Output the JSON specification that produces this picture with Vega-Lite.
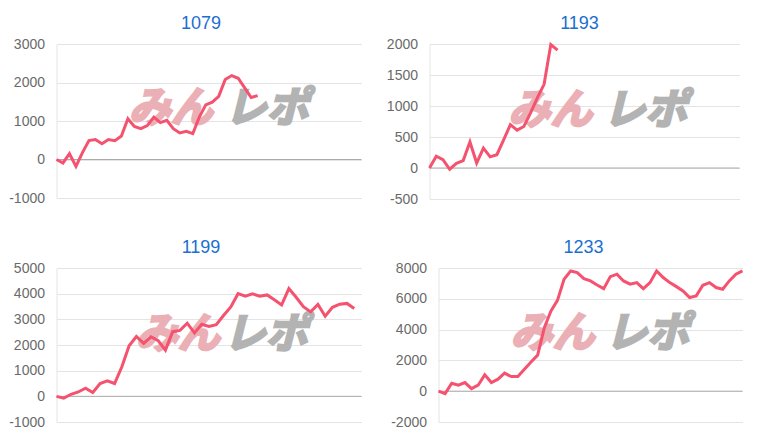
{
  "$schema": "https://vega.github.io/schema/vega-lite/v6.json",
  "background": "white",
  "padding": {"left": 8.5, "top": 15, "right": 5, "bottom": 5},
  "config": {
    "view": {"stroke": null},
    "font": "Liberation Sans",
    "axisY": {"grid": true, "gridColor": "#e4e4e4", "domainColor": "#e4e4e4", "ticks": false, "labelPadding": 12, "labelColor": "#6a6a6a", "labelFontSize": 14, "labelFont": "Liberation Sans", "labelOverlap": false, "labelFlush": false, "labelBound": false, "labelExpr": "'' + datum.value", "title": null},
    "title": {"fontSize": 18, "color": "#1a6fd1", "fontWeight": "normal", "anchor": "middle", "frame": "group", "offset": 4, "font": "Liberation Sans"}
  },
  "datasets": {
    "p1": [{"i":0,"v":0},{"i":1,"v":-90},{"i":2,"v":150},{"i":3,"v":-180},{"i":4,"v":180},{"i":5,"v":490},{"i":6,"v":520},{"i":7,"v":410},{"i":8,"v":520},{"i":9,"v":490},{"i":10,"v":610},{"i":11,"v":1060},{"i":12,"v":860},{"i":13,"v":800},{"i":14,"v":880},{"i":15,"v":1100},{"i":16,"v":960},{"i":17,"v":1020},{"i":18,"v":800},{"i":19,"v":690},{"i":20,"v":730},{"i":21,"v":670},{"i":22,"v":1100},{"i":23,"v":1420},{"i":24,"v":1490},{"i":25,"v":1640},{"i":26,"v":2080},{"i":27,"v":2180},{"i":28,"v":2110},{"i":29,"v":1860},{"i":30,"v":1610},{"i":31,"v":1660}],
    "p2": [{"i":0,"v":0},{"i":1,"v":190},{"i":2,"v":135},{"i":3,"v":-20},{"i":4,"v":75},{"i":5,"v":120},{"i":6,"v":420},{"i":7,"v":80},{"i":8,"v":320},{"i":9,"v":180},{"i":10,"v":215},{"i":11,"v":455},{"i":12,"v":700},{"i":13,"v":610},{"i":14,"v":670},{"i":15,"v":890},{"i":16,"v":1130},{"i":17,"v":1350},{"i":18,"v":1990},{"i":19,"v":1900}],
    "p3": [{"i":0,"v":0},{"i":1,"v":-70},{"i":2,"v":80},{"i":3,"v":170},{"i":4,"v":320},{"i":5,"v":150},{"i":6,"v":500},{"i":7,"v":600},{"i":8,"v":500},{"i":9,"v":1150},{"i":10,"v":1970},{"i":11,"v":2330},{"i":12,"v":2060},{"i":13,"v":2320},{"i":14,"v":2170},{"i":15,"v":1800},{"i":16,"v":2520},{"i":17,"v":2570},{"i":18,"v":2850},{"i":19,"v":2470},{"i":20,"v":2810},{"i":21,"v":2720},{"i":22,"v":2790},{"i":23,"v":3150},{"i":24,"v":3480},{"i":25,"v":4000},{"i":26,"v":3900},{"i":27,"v":3990},{"i":28,"v":3900},{"i":29,"v":3950},{"i":30,"v":3760},{"i":31,"v":3560},{"i":32,"v":4200},{"i":33,"v":3860},{"i":34,"v":3490},{"i":35,"v":3290},{"i":36,"v":3580},{"i":37,"v":3120},{"i":38,"v":3470},{"i":39,"v":3590},{"i":40,"v":3620},{"i":41,"v":3420}],
    "p4": [{"i":0,"v":0},{"i":1,"v":-160},{"i":2,"v":520},{"i":3,"v":390},{"i":4,"v":560},{"i":5,"v":170},{"i":6,"v":390},{"i":7,"v":1060},{"i":8,"v":560},{"i":9,"v":780},{"i":10,"v":1170},{"i":11,"v":950},{"i":12,"v":950},{"i":13,"v":1430},{"i":14,"v":1900},{"i":15,"v":2340},{"i":16,"v":4100},{"i":17,"v":5200},{"i":18,"v":5900},{"i":19,"v":7270},{"i":20,"v":7810},{"i":21,"v":7700},{"i":22,"v":7310},{"i":23,"v":7160},{"i":24,"v":6900},{"i":25,"v":6660},{"i":26,"v":7440},{"i":27,"v":7600},{"i":28,"v":7160},{"i":29,"v":6950},{"i":30,"v":7050},{"i":31,"v":6660},{"i":32,"v":7050},{"i":33,"v":7810},{"i":34,"v":7380},{"i":35,"v":7050},{"i":36,"v":6790},{"i":37,"v":6510},{"i":38,"v":6080},{"i":39,"v":6190},{"i":40,"v":6880},{"i":41,"v":7050},{"i":42,"v":6730},{"i":43,"v":6620},{"i":44,"v":7160},{"i":45,"v":7600},{"i":46,"v":7810}]
  },
  "spacing": 33,
  "vconcat": [
    {
      "spacing": 23,
      "hconcat": [
        {
          "width": 305, "height": 154,
          "title": {"text": "1079", "dx": -8},
          "layer": [
            {"data": {"values": [{}]}, "mark": {"type": "text", "text": "みん", "font": "Noto Sans CJK JP", "fontSize": 42, "fontWeight": "bold", "fontStyle": "italic", "color": "#eab0b5", "stroke": "#eab0b5", "strokeWidth": 2.5},
             "encoding": {"x": {"datum": 17.6, "type": "quantitative", "scale": {"domain": [0, 47]}, "axis": null}, "y": {"datum": 1300, "type": "quantitative", "scale": {"domain": [-1000, 3000]}, "axis": {"values": [-1000, 0, 1000, 2000, 3000]}}}},
            {"data": {"values": [{}]}, "mark": {"type": "text", "text": "レポ", "font": "Noto Sans CJK JP", "fontSize": 42, "fontWeight": "bold", "fontStyle": "italic", "color": "#b3b3b3", "stroke": "#b3b3b3", "strokeWidth": 2.5},
             "encoding": {"x": {"datum": 32.4, "type": "quantitative", "scale": {"domain": [0, 47]}, "axis": null}, "y": {"datum": 1300, "type": "quantitative", "scale": {"domain": [-1000, 3000]}, "axis": {"values": [-1000, 0, 1000, 2000, 3000]}}}},
            {"data": {"values": [{}]}, "mark": {"type": "rule", "color": "#aaaaaa", "strokeWidth": 1},
             "encoding": {"y": {"datum": 0, "type": "quantitative", "scale": {"domain": [-1000, 3000]}, "axis": {"values": [-1000, 0, 1000, 2000, 3000]}}}},
            {"data": {"name": "p1"}, "mark": {"type": "line", "color": "#f4526f", "strokeWidth": 3},
             "encoding": {
               "x": {"field": "i", "type": "quantitative", "scale": {"domain": [0, 47]}, "axis": null},
               "y": {"field": "v", "type": "quantitative", "scale": {"domain": [-1000, 3000]}, "axis": {"values": [-1000, 0, 1000, 2000, 3000]}}
             }}
          ]
        },
        {
          "width": 310, "height": 155,
          "title": {"text": "1193", "dx": -5},
          "layer": [
            {"data": {"values": [{}]}, "mark": {"type": "text", "text": "みん", "font": "Noto Sans CJK JP", "fontSize": 42, "fontWeight": "bold", "fontStyle": "italic", "color": "#eab0b5", "stroke": "#eab0b5", "strokeWidth": 2.5},
             "encoding": {"x": {"datum": 17.9, "type": "quantitative", "scale": {"domain": [0, 46]}, "axis": null}, "y": {"datum": 924, "type": "quantitative", "scale": {"domain": [-500, 2000]}, "axis": {"values": [-500, 0, 500, 1000, 1500, 2000]}}}},
            {"data": {"values": [{}]}, "mark": {"type": "text", "text": "レポ", "font": "Noto Sans CJK JP", "fontSize": 42, "fontWeight": "bold", "fontStyle": "italic", "color": "#b3b3b3", "stroke": "#b3b3b3", "strokeWidth": 2.5},
             "encoding": {"x": {"datum": 32.0, "type": "quantitative", "scale": {"domain": [0, 46]}, "axis": null}, "y": {"datum": 924, "type": "quantitative", "scale": {"domain": [-500, 2000]}, "axis": {"values": [-500, 0, 500, 1000, 1500, 2000]}}}},
            {"data": {"values": [{}]}, "mark": {"type": "rule", "color": "#aaaaaa", "strokeWidth": 1},
             "encoding": {"y": {"datum": 0, "type": "quantitative", "scale": {"domain": [-500, 2000]}, "axis": {"values": [-500, 0, 500, 1000, 1500, 2000]}}}},
            {"data": {"name": "p2"}, "mark": {"type": "line", "color": "#f4526f", "strokeWidth": 3},
             "encoding": {
               "x": {"field": "i", "type": "quantitative", "scale": {"domain": [0, 46]}, "axis": null},
               "y": {"field": "v", "type": "quantitative", "scale": {"domain": [-500, 2000]}, "axis": {"values": [-500, 0, 500, 1000, 1500, 2000]}}
             }}
          ]
        }
      ]
    },
    {
      "spacing": 28,
      "hconcat": [
        {
          "width": 305, "height": 154,
          "title": {"text": "1199", "dx": -8},
          "layer": [
            {"data": {"values": [{}]}, "mark": {"type": "text", "text": "みん", "font": "Noto Sans CJK JP", "fontSize": 42, "fontWeight": "bold", "fontStyle": "italic", "color": "#eab0b5", "stroke": "#eab0b5", "strokeWidth": 2.5},
             "encoding": {"x": {"datum": 16.7, "type": "quantitative", "scale": {"domain": [0, 42]}, "axis": null}, "y": {"datum": 2393, "type": "quantitative", "scale": {"domain": [-1000, 5000]}, "axis": {"values": [-1000, 0, 1000, 2000, 3000, 4000, 5000]}}}},
            {"data": {"values": [{}]}, "mark": {"type": "text", "text": "レポ", "font": "Noto Sans CJK JP", "fontSize": 42, "fontWeight": "bold", "fontStyle": "italic", "color": "#b3b3b3", "stroke": "#b3b3b3", "strokeWidth": 2.5},
             "encoding": {"x": {"datum": 28.8, "type": "quantitative", "scale": {"domain": [0, 42]}, "axis": null}, "y": {"datum": 2393, "type": "quantitative", "scale": {"domain": [-1000, 5000]}, "axis": {"values": [-1000, 0, 1000, 2000, 3000, 4000, 5000]}}}},
            {"data": {"values": [{}]}, "mark": {"type": "rule", "color": "#aaaaaa", "strokeWidth": 1},
             "encoding": {"y": {"datum": 0, "type": "quantitative", "scale": {"domain": [-1000, 5000]}, "axis": {"values": [-1000, 0, 1000, 2000, 3000, 4000, 5000]}}}},
            {"data": {"name": "p3"}, "mark": {"type": "line", "color": "#f4526f", "strokeWidth": 3},
             "encoding": {
               "x": {"field": "i", "type": "quantitative", "scale": {"domain": [0, 42]}, "axis": null},
               "y": {"field": "v", "type": "quantitative", "scale": {"domain": [-1000, 5000]}, "axis": {"values": [-1000, 0, 1000, 2000, 3000, 4000, 5000]}}
             }}
          ]
        },
        {
          "width": 304, "height": 154,
          "title": {"text": "1233", "dx": -7},
          "layer": [
            {"data": {"values": [{}]}, "mark": {"type": "text", "text": "みん", "font": "Noto Sans CJK JP", "fontSize": 42, "fontWeight": "bold", "fontStyle": "italic", "color": "#eab0b5", "stroke": "#eab0b5", "strokeWidth": 2.5},
             "encoding": {"x": {"datum": 17.25, "type": "quantitative", "scale": {"domain": [0, 46]}, "axis": null}, "y": {"datum": 3690, "type": "quantitative", "scale": {"domain": [-2000, 8000]}, "axis": {"values": [-2000, 0, 2000, 4000, 6000, 8000]}}}},
            {"data": {"values": [{}]}, "mark": {"type": "text", "text": "レポ", "font": "Noto Sans CJK JP", "fontSize": 42, "fontWeight": "bold", "fontStyle": "italic", "color": "#b3b3b3", "stroke": "#b3b3b3", "strokeWidth": 2.5},
             "encoding": {"x": {"datum": 31.6, "type": "quantitative", "scale": {"domain": [0, 46]}, "axis": null}, "y": {"datum": 3690, "type": "quantitative", "scale": {"domain": [-2000, 8000]}, "axis": {"values": [-2000, 0, 2000, 4000, 6000, 8000]}}}},
            {"data": {"values": [{}]}, "mark": {"type": "rule", "color": "#aaaaaa", "strokeWidth": 1},
             "encoding": {"y": {"datum": 0, "type": "quantitative", "scale": {"domain": [-2000, 8000]}, "axis": {"values": [-2000, 0, 2000, 4000, 6000, 8000]}}}},
            {"data": {"name": "p4"}, "mark": {"type": "line", "color": "#f4526f", "strokeWidth": 3},
             "encoding": {
               "x": {"field": "i", "type": "quantitative", "scale": {"domain": [0, 46]}, "axis": null},
               "y": {"field": "v", "type": "quantitative", "scale": {"domain": [-2000, 8000]}, "axis": {"values": [-2000, 0, 2000, 4000, 6000, 8000]}}
             }}
          ]
        }
      ]
    }
  ]
}
